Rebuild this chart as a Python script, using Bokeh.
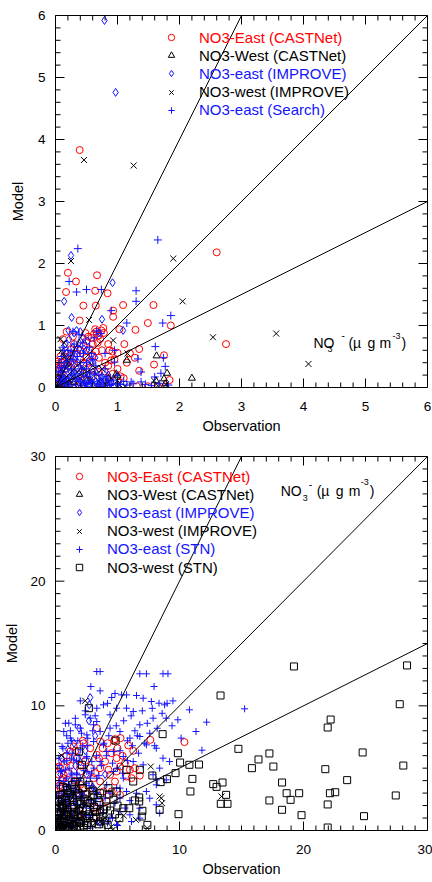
from bokeh.plotting import figure
from bokeh.models import Range1d, SingleIntervalTicker, Slope, Label, Legend, LegendItem
from bokeh.layouts import column
from bokeh.embed import file_html
from bokeh.resources import INLINE

# ---------------- DATA : top panel (0-6 ug/m3) ----------------
t_ec_obs = [0.39, 2.60, 2.75, 0.20, 0.33, 0.67, 0.17, 0.64, 0.84, 0.45, 0.65, 0.39, 0.93, 0.93, 1.09, 1.58,
            1.49, 1.29, 1.86, 0.77, 1.03, 1.11, 1.00, 1.35, 1.28, 1.59, 1.75, 1.35, 1.84, 1.31, 1.49, 1.65,
            1.77, 0.87, 0.90, 0.79, 0.92, 0.53, 0.58, 0.62, 0.66, 0.70, 0.72, 0.68, 0.60, 0.55, 0.50, 0.45,
            0.40, 0.35, 0.30, 0.25, 0.20, 0.15, 0.12, 0.10, 0.08, 0.06, 0.05, 0.04, 0.03, 0.10, 0.12, 0.15,
            0.20, 0.25, 0.30, 0.35, 0.40, 0.45, 0.50, 0.55, 0.60, 0.65, 0.70, 0.75, 0.80, 0.85, 0.95, 1.00,
            1.05, 0.70, 0.60, 0.50, 0.40, 0.30, 0.20, 0.10, 0.78, 0.74, 0.64, 0.48, 0.18, 0.28, 0.85, 0.92,
            1.15, 1.20, 1.10, 0.88, 0.58, 0.45, 0.02, 0.05, 0.08, 0.04]
t_ec_mod = [3.83, 2.18, 0.70, 1.85, 1.71, 1.81, 1.54, 1.56, 1.52, 1.32, 1.32, 1.08, 1.24, 1.14, 1.33, 1.33,
            1.04, 0.93, 1.00, 0.96, 0.94, 0.70, 0.56, 0.62, 0.48, 0.37, 0.52, 0.27, 0.12, 0.02, 0.02, 0.01,
            0.01, 0.60, 0.44, 0.26, 0.22, 0.82, 0.80, 0.86, 0.90, 0.84, 0.78, 0.72, 0.70, 0.62, 0.75, 0.68,
            0.60, 0.55, 0.70, 0.62, 0.55, 0.50, 0.78, 0.40, 0.35, 0.30, 0.25, 0.38, 0.20, 0.22, 0.15, 0.30,
            0.35, 0.42, 0.38, 0.32, 0.45, 0.40, 0.48, 0.42, 0.52, 0.58, 0.48, 0.60, 0.40, 0.35, 0.45, 0.30,
            0.18, 0.25, 0.18, 0.12, 0.08, 0.10, 0.05, 0.08, 0.88, 0.92, 0.94, 0.88, 0.90, 0.82, 0.70, 0.58,
            0.40, 0.55, 0.15, 0.10, 0.30, 0.22, 0.12, 0.05, 0.50, 0.42]

t_wc_obs = [1.15, 1.63, 2.20, 1.80, 1.75, 1.62, 1.00, 1.77, 0.98, 0.10, 0.30, 0.50, 0.70, 0.85, 0.20]
t_wc_mod = [0.44, 0.51, 0.15, 0.23, 0.14, 0.11, 0.19, 0.06, 0.22, 0.05, 0.08, 0.10, 0.05, 0.15, 0.12]

t_ei_obs = [0.79, 0.97, 0.25, 0.92, 0.14, 0.26, 0.75, 1.09, 0.21, 0.34, 0.40, 0.30, 0.64, 0.45, 0.38, 0.28,
            0.22, 0.18, 0.12, 0.32, 0.42, 0.50, 0.55, 0.48, 0.35, 0.25, 0.15, 0.10, 0.20, 0.30, 0.40, 0.60,
            0.70, 0.80, 0.90, 0.60, 0.45, 0.08, 0.05, 0.70, 0.58, 0.26, 0.16, 1.00, 0.75, 0.52, 0.05, 0.35,
            0.65, 0.85, 0.12, 0.18, 0.24, 0.30, 0.36, 0.42, 0.28, 0.22, 0.14, 0.38, 0.46, 0.52, 0.08, 0.55,
            0.72]
t_ei_mod = [5.92, 4.76, 2.13, 1.69, 1.39, 1.13, 1.10, 0.92, 0.92, 0.92, 0.90, 0.88, 0.48, 0.80, 0.72, 0.65,
            0.78, 0.55, 0.45, 0.50, 0.55, 0.60, 0.45, 0.35, 0.30, 0.25, 0.20, 0.12, 0.10, 0.15, 0.18, 0.25,
            0.30, 0.12, 0.08, 0.05, 0.05, 0.05, 0.30, 0.88, 0.40, 0.40, 0.70, 0.05, 0.18, 0.20, 0.10, 0.05,
            0.10, 0.20, 0.30, 0.38, 0.55, 0.45, 0.40, 0.28, 0.20, 0.08, 0.15, 0.62, 0.62, 0.75, 0.22, 0.12,
            0.08]

t_wi_obs = [0.46, 1.26, 0.25, 1.90, 2.05, 0.54, 2.54, 3.56, 4.08, 0.93, 0.08, 1.16, 1.00, 1.59, 1.65, 1.78,
            1.03, 0.10, 0.12, 0.15, 0.05, 0.10, 0.20, 0.30, 0.40, 0.50, 0.60, 0.70, 0.80, 0.90, 0.35, 0.08,
            0.14, 0.18, 0.22, 0.28, 0.45, 0.55, 0.65, 0.75, 0.85, 1.12, 0.06, 0.16]
t_wi_mod = [3.67, 3.58, 2.04, 2.08, 1.39, 1.09, 0.81, 0.87, 0.38, 0.76, 0.78, 0.55, 0.11, 0.11, 0.03, 0.05,
            0.05, 0.60, 0.55, 0.50, 0.20, 0.30, 0.10, 0.05, 0.15, 0.20, 0.35, 0.10, 0.05, 0.15, 0.25, 0.05,
            0.72, 0.45, 0.35, 0.18, 0.30, 0.12, 0.22, 0.30, 0.08, 0.02, 0.12, 0.02]

t_es_obs = [0.36, 1.65, 0.22, 0.34, 0.50, 0.74, 1.30, 1.30, 0.90, 1.15, 1.73, 1.86, 1.61, 1.74, 1.77, 1.70,
            1.38, 1.22, 1.38, 1.60, 0.95, 1.33, 0.66, 0.73, 0.10, 0.20, 0.30, 0.35, 0.40, 0.45, 0.50, 0.55,
            0.60, 0.65, 0.70, 0.75, 0.80, 0.85, 0.90, 0.30, 0.25, 0.15, 0.10, 0.05, 0.20, 0.40, 0.50, 0.60,
            0.70, 0.35, 0.45, 0.25, 0.15, 0.55, 0.62, 0.38, 0.28, 1.00, 1.10, 0.95, 0.05, 0.12, 0.18, 0.80,
            0.22, 0.32, 0.42, 0.52, 0.68, 0.78, 0.88, 0.98, 0.14, 0.08, 0.58, 0.48,
            0.05, 0.08, 0.12, 0.16, 0.22, 0.26, 0.33, 0.38, 0.42, 0.47, 0.52, 0.57, 0.63, 0.67, 0.72, 0.77,
            0.82, 0.87, 0.93, 1.05, 1.15, 1.25, 1.45, 1.55, 1.68, 1.82, 0.18, 0.24, 0.30, 0.36, 0.44, 0.14,
            0.10, 0.06, 0.50, 0.58]
t_es_mod = [2.24, 2.38, 1.71, 1.54, 1.58, 1.58, 1.56, 1.39, 1.24, 1.04, 1.04, 1.16, 0.66, 0.48, 0.34, 0.23,
            0.25, 0.09, 0.09, 0.17, 0.41, 0.46, 0.91, 0.87, 0.50, 0.60, 0.70, 0.50, 0.40, 0.55, 0.30, 0.25,
            0.45, 0.35, 0.20, 0.15, 0.30, 0.10, 0.05, 0.30, 0.20, 0.15, 0.10, 0.05, 0.30, 0.10, 0.05, 0.10,
            0.05, 0.15, 0.20, 0.45, 0.35, 0.65, 0.80, 0.85, 0.90, 0.20, 0.10, 0.60, 0.25, 0.65, 0.05, 0.55,
            0.02, 0.04, 0.03, 0.02, 0.04, 0.02, 0.03, 0.06, 0.08, 0.12, 0.08, 0.06,
            0.12, 0.18, 0.25, 0.08, 0.14, 0.28, 0.22, 0.12, 0.30, 0.08, 0.18, 0.12, 0.22, 0.06, 0.12, 0.08,
            0.18, 0.04, 0.12, 0.05, 0.04, 0.06, 0.05, 0.03, 0.06, 0.04, 0.42, 0.52, 0.58, 0.66, 0.72, 0.60,
            0.32, 0.40, 0.40, 0.55]

# ---------------- DATA : bottom panel (0-30 ug/m3) ----------------
b_ec_obs = [10.4, 7.65, 4.72, 4.80, 5.25, 5.87, 6.27, 3.33, 0.27, 0.27, 0.53, 0.40, 3.33, 4.00, 4.27, 4.93,
            5.73, 6.13, 4.40, 3.60, 2.27, 2.00, 1.73, 1.47, 1.20, 0.93, 0.67, 2.53, 2.80, 3.07, 3.60, 3.87,
            4.13, 3.33, 2.27, 1.47, 0.93, 0.40, 0.13, 0.08, 4.53, 5.20, 1.87, 2.67, 4.80, 3.07, 1.73, 3.60,
            2.80, 2.27, 2.00, 4.93, 5.20, 6.00,
            0.2, 0.4, 0.6, 0.8, 1.0, 1.2, 0.5, 0.3, 1.5, 1.7, 2.0, 2.4, 3.8, 4.2, 4.5, 5.0, 5.4, 5.6, 6.4,
            6.8, 3.2, 3.5, 2.6, 1.0, 0.6, 1.4, 0.9, 1.6, 2.2]
b_ec_mod = [7.09, 7.27, 7.19, 7.33, 7.41, 6.82, 6.39, 8.21, 5.13, 4.47, 4.06, 3.40, 6.07, 5.53, 4.87, 4.73,
            4.33, 4.20, 4.47, 3.93, 3.40, 4.73, 5.80, 6.74, 6.34, 5.53, 4.47, 4.47, 5.00, 4.20, 5.00, 3.13,
            2.33, 1.79, 1.26, 0.72, 0.19, 0.72, 1.79, 2.86, 3.13, 2.86, 2.86, 2.19, 3.93, 0.99, 1.52, 7.14,
            6.60, 7.00, 3.66, 5.80, 5.13, 4.87,
            5.5, 5.0, 4.2, 3.8, 4.6, 5.2, 3.0, 3.6, 4.0, 3.2, 5.2, 5.6, 6.6, 7.0, 6.2, 6.6, 6.0, 5.4, 5.0,
            4.4, 4.6, 5.8, 3.0, 2.0, 1.2, 2.6, 6.0, 6.4, 7.2]

b_wc_obs = [0.5, 1.0, 1.5, 2.0, 0.8, 1.8]
b_wc_mod = [0.3, 0.8, 0.5, 1.2, 1.5, 0.2]

b_ei_obs = [2.80, 2.72, 0.5, 1.0, 1.5, 2.0, 2.5, 1.2, 0.8, 0.3, 1.8, 2.2, 0.6, 1.4, 3.0, 3.5, 0.2, 1.0, 2.8,
            4.0, 0.4, 1.6, 2.4, 3.2, 0.9, 1.3, 2.7, 1.9]
b_ei_mod = [10.67, 10.08, 5.8, 6.5, 7.0, 5.5, 4.5, 4.0, 3.5, 2.5, 3.0, 2.0, 1.5, 1.0, 3.5, 2.8, 0.8, 0.3,
            1.2, 4.5, 4.5, 5.2, 6.4, 7.6, 2.4, 2.8, 8.8, 8.2]

b_wi_obs = [2.40, 0.48, 7.68, 8.53, 8.40, 8.59, 13.39, 6.48, 7.41, 4.61, 3.33, 3.60, 0.5, 1.0, 1.5, 2.0, 0.3,
            2.5, 3.0, 1.2, 0.8, 0.2, 4.0, 5.5, 4.5, 0.7, 1.3, 1.7, 2.3, 0.4, 2.9, 3.6, 5.0]
b_wi_mod = [10.40, 6.02, 5.13, 2.59, 2.73, 2.19, 2.73, 0.86, 0.19, 0.05, 3.13, 1.79, 0.5, 1.0, 0.3, 1.5, 1.8,
            0.8, 0.4, 2.2, 3.0, 0.2, 1.0, 1.2, 0.3, 1.4, 0.6, 1.9, 1.2, 2.6, 2.0, 0.7, 0.6]

b_es_obs = [3.33, 3.60, 6.80, 7.33, 8.67, 9.07, 2.85, 7.95, 4.80, 5.33, 5.73, 4.53, 6.53, 7.07, 7.73, 8.35,
            8.80, 9.47, 15.25, 12.19, 11.33, 11.81, 10.13, 9.87, 8.93, 7.87, 6.80, 6.27, 5.73, 4.93, 4.40,
            3.87, 3.33, 3.07, 3.60, 4.40, 5.20, 6.00, 6.80, 7.33, 8.13, 8.67, 9.20, 8.40, 7.87, 7.07, 6.27,
            5.47, 4.67, 3.87, 3.07, 2.53, 2.00, 1.60, 1.07, 0.67, 1.20, 0.53, 0.93, 1.47, 2.00, 2.53, 2.80,
            3.33, 2.40, 3.33, 4.13, 4.93, 5.73, 6.53, 7.33, 8.13, 8.93, 8.13, 7.60, 6.80, 6.00, 5.20, 4.40,
            3.60, 2.80, 2.00, 4.93, 6.13, 0.40, 0.27, 0.93, 1.20, 0.67, 0.40, 0.27, 1.73, 2.27, 2.80, 3.33,
            1.73, 2.13, 1.33, 1.07, 1.60, 1.33, 0.80, 2.53, 2.93, 3.60, 4.13, 3.07, 4.67, 5.47, 5.20, 8.13,
            8.40, 6.80, 10.80, 1.07, 0.13, 0.5, 1.0, 1.5, 2.0, 2.5, 0.8, 1.2, 1.8, 2.2, 0.3, 0.6, 1.0, 1.4,
            0.2, 1.6, 2.4, 1.1, 0.7, 1.9, 2.6, 1.3, 0.9, 2.1, 1.7, 0.4, 2.8, 3.1, 2.5, 1.9, 0.5,
            0.3, 0.5, 0.7, 0.9, 1.1, 1.3, 1.5, 1.7, 1.9, 2.1, 2.3, 2.5, 2.7, 2.9, 3.1, 3.3, 3.5, 3.7, 3.9,
            4.1, 4.3, 4.6, 4.9, 5.2, 5.5, 5.8, 6.1, 6.4, 6.7, 7.0, 7.4, 7.8, 8.2, 8.6, 9.0, 9.4, 0.6, 1.0,
            1.4, 1.8, 2.2, 2.6, 3.0, 1.2, 0.8, 1.6, 2.4, 3.2, 2.0, 3.6, 4.2, 0.4, 0.8, 1.2, 1.6, 2.0, 2.4,
            2.8, 3.2, 3.6, 4.0, 4.4, 4.8, 5.2, 5.6, 6.0, 0.2, 0.6, 1.0, 1.4, 0.3, 0.9, 1.3, 5.0, 5.4, 5.8,
            6.2, 6.6, 7.2, 7.6, 8.0, 3.0, 3.4, 3.8, 4.2, 4.6, 5.0, 2.2, 1.4, 0.8]
b_es_mod = [12.75, 12.75, 12.57, 12.57, 12.57, 12.57, 11.55, 11.55, 10.99, 10.88, 10.88, 10.67, 10.83,
            10.61, 10.35, 10.21, 10.08, 10.40, 9.76, 8.69, 7.94, 6.44, 7.41, 8.88, 9.01, 9.01, 8.48, 9.55,
            9.81, 9.81, 9.28, 10.08, 9.81, 8.48, 7.94, 8.21, 7.94, 7.41, 7.54, 6.87, 6.60, 5.80, 5.53, 5.00,
            4.47, 5.27, 5.53, 5.94, 6.34, 6.87, 7.14, 7.67, 8.21, 8.48, 8.61, 7.94, 7.41, 6.74, 6.20, 5.67,
            6.47, 5.94, 9.01, 8.74, 9.28, 4.20, 3.66, 3.40, 3.13, 2.99, 3.13, 3.66, 4.06, 4.06, 2.59, 1.79,
            1.26, 1.52, 0.99, 0.45, 0.19, 0.32, 0.45, 0.72, 0.99, 2.06, 2.33, 3.13, 3.93, 4.73, 5.80, 4.47,
            2.86, 1.79, 2.59, 2.06, 1.26, 0.99, 1.79, 2.59, 4.47, 4.87, 4.73, 5.53, 5.53, 6.34, 3.40, 4.73,
            4.20, 3.40, 2.06, 1.39, 0.99, 9.68, 0.45, 0.19, 3.0, 3.5, 4.0, 4.2, 3.8, 2.5, 2.0, 1.5, 2.6,
            1.2, 0.6, 1.0, 1.4, 3.6, 3.2, 5.2, 5.0, 5.5, 6.0, 6.8, 7.2, 7.6, 7.8, 4.6, 2.2, 4.2, 2.2, 1.2,
            0.8, 0.2,
            4.0, 4.8, 3.2, 4.2, 3.6, 4.6, 3.4, 5.6, 4.0, 3.0, 4.8, 5.8, 3.6, 4.6, 5.0, 6.0, 4.4, 5.2, 7.0,
            6.0, 7.6, 5.4, 8.4, 6.4, 8.8, 7.2, 9.2, 8.0, 6.2, 9.6, 8.6, 9.8, 8.2, 9.4, 10.2, 8.4, 6.6, 7.0,
            6.2, 7.2, 6.8, 7.4, 8.0, 8.0, 8.6, 9.0, 9.6, 9.2, 10.4, 11.2, 10.2, 1.6, 1.2, 1.6, 2.2, 2.6, 2.0,
            2.4, 3.0, 2.0, 2.6, 3.0, 2.2, 2.6, 1.8, 2.4, 2.8, 2.4, 2.8, 3.0, 5.2, 5.6, 5.8, 5.0, 4.6, 5.6,
            6.8, 7.6, 7.0, 7.8, 6.8, 1.2, 0.8, 1.4, 0.6, 1.0, 0.4, 0.6, 0.3, 0.6]

b_ws_obs = [19.23, 28.35, 13.31, 27.76, 22.19, 21.95, 8.64, 14.75, 24.77, 17.25, 9.87, 16.37, 15.84, 17.57,
            21.76, 28.05, 10.05, 10.80, 11.57, 9.68, 11.04, 7.81, 8.48, 8.99, 23.52, 18.27, 12.72, 12.99,
            13.47, 10.88, 13.76, 13.33, 13.87, 18.64, 19.65, 22.13, 22.56, 27.44, 17.25, 18.96, 21.95, 18.27,
            9.92, 19.84, 24.88, 21.95, 7.41, 8.40, 6.40, 6.75, 6.75, 6.27, 6.80, 5.73, 4.85, 1.89, 2.69, 4.27,
            5.47, 5.95, 7.01, 6.96, 5.15, 4.21, 3.60, 3.07, 2.67, 2.00, 2.13, 1.87, 1.33, 0.93, 0.53, 0.93,
            1.47, 2.00, 2.53, 3.07, 3.60, 4.13, 4.67, 4.93, 3.60, 2.27, 0.3, 0.5, 0.8, 1.0, 1.2, 1.5, 0.2,
            0.6, 1.8, 2.2, 2.5, 0.4, 1.1, 1.6, 0.9, 1.4, 0.7, 2.8, 3.2, 0.1, 1.3, 2.0, 0.5, 1.7, 2.4, 3.4,
            3.0, 2.2, 1.0, 0.6, 1.6, 0.3, 2.6, 3.8, 4.4, 1.9, 0.15, 1.15, 0.45, 0.85, 1.45, 2.05, 0.35, 4.0,
            3.5, 4.8, 5.0,
            0.1, 0.2, 0.4, 0.6, 0.7, 0.9, 1.1, 1.3, 1.5, 1.7, 1.9, 2.1, 2.3, 2.5, 2.7, 2.9, 3.1, 3.3, 3.5,
            0.3, 0.5, 0.8, 1.2, 1.6, 2.0, 2.4, 0.15, 0.35, 1.0, 2.6, 3.9, 4.3, 0.9, 0.2, 0.55, 1.75]
b_ws_mod = [13.16, 13.24, 10.83, 10.13, 8.90, 8.26, 7.73, 6.55, 6.26, 6.18, 6.20, 5.70, 5.00, 5.13, 4.92,
            5.21, 5.45, 5.27, 5.29, 4.60, 4.14, 4.41, 3.88, 4.12, 4.04, 3.85, 3.72, 3.50, 3.85, 3.13, 2.86,
            2.14, 2.14, 2.99, 2.99, 2.99, 3.07, 2.81, 2.41, 2.46, 2.09, 1.66, 1.31, 1.23, 1.15, 0.24, 0.45,
            1.66, 2.41, 2.33, 2.65, 3.93, 4.87, 4.87, 7.22, 6.34, 9.81, 3.40, 1.79, 1.79, 1.58, 1.12, 0.99,
            0.45, 2.99, 2.86, 3.66, 3.93, 5.27, 2.99, 3.66, 3.26, 2.33, 1.79, 1.26, 0.72, 0.45, 0.99, 1.52,
            1.93, 2.46, 3.13, 0.72, 0.19, 0.5, 1.0, 0.3, 1.5, 0.8, 0.4, 1.2, 1.8, 1.2, 1.8, 1.0, 0.2, 0.1,
            0.9, 2.2, 2.6, 0.7, 2.2, 1.5, 0.8, 1.9, 0.3, 2.5, 2.8, 2.5, 2.6, 3.2, 3.4, 3.0, 3.5, 3.9, 2.0,
            0.6, 1.1, 1.6, 0.6, 0.15, 0.55, 1.45, 1.15, 1.35, 2.15, 2.85, 0.8, 0.5, 1.3, 2.0,
            0.3, 0.6, 0.9, 0.4, 1.3, 0.2, 0.9, 0.5, 1.5, 0.7, 1.6, 1.1, 0.4, 1.7, 1.3, 0.6, 1.9, 1.1, 2.3,
            1.5, 1.9, 2.6, 2.9, 3.3, 2.1, 2.9, 1.0, 0.1, 0.05, 2.4, 1.7, 2.9, 3.4, 2.4, 2.1, 2.3]

top_slopes = [2.0, 1.0, 0.5]
bottom_slopes = [2.0, 1.0, 0.5]

FONT = "Liberation Sans"
RED = "#ff0000"
BLUE = "#1414ff"
BLACK = "#000000"
MAJOR_PX = 9
MINOR_PX = 5


def style_axis(ax, interval, minor, standoff, label_standoff):
    ax.ticker = SingleIntervalTicker(interval=interval, num_minor_ticks=minor)
    ax.major_tick_in = 0
    ax.major_tick_out = 0
    ax.minor_tick_in = 0
    ax.minor_tick_out = 0
    ax.axis_line_color = BLACK
    ax.major_label_text_font = FONT
    ax.major_label_text_font_size = "13.5px"
    ax.major_label_text_color = BLACK
    ax.major_label_standoff = standoff
    ax.axis_label_text_font = FONT
    ax.axis_label_text_font_size = "14.5px"
    ax.axis_label_text_font_style = "normal"
    ax.axis_label_text_color = BLACK
    ax.axis_label_standoff = label_standoff


def add_frame_ticks(p, vmax, interval, minor, fw, fh):
    """Inward ticks on all four sides of the frame (lengths given in screen px)."""
    vmax = float(vmax)
    step = float(interval) / minor
    n = int(round(vmax / step))
    x0, y0, x1, y1 = [], [], [], []
    for k in range(n + 1):
        v = round(k * step, 6)
        px = MAJOR_PX if k % minor == 0 else MINOR_PX
        ly = px * vmax / fh     # vertical tick length in data units
        lx = px * vmax / fw     # horizontal tick length in data units
        x0 += [v, v, 0.0, vmax]
        y0 += [0.0, vmax, v, v]
        x1 += [v, v, lx, vmax - lx]
        y1 += [ly, vmax - ly, v, v]
    p.segment(x0=x0, y0=y0, x1=x1, y1=y1, line_color=BLACK, line_width=1)


def panel(vmax, interval, minor, series, slopes, size, borders, ylabel_standoff, legend_xy,
          no3_anchor, no3_parts):
    w, h = size
    bl, br, bt, bb = borders
    p = figure(width=w, height=h, x_range=Range1d(0, vmax), y_range=Range1d(0, vmax),
               output_backend="svg", toolbar_location=None,
               min_border_left=bl, min_border_right=br, min_border_top=bt, min_border_bottom=bb)
    p.xgrid.visible = False
    p.ygrid.visible = False
    p.outline_line_color = BLACK
    p.outline_line_width = 1
    p.background_fill_color = "white"
    p.border_fill_color = "white"
    p.xaxis.axis_label = "Observation"
    p.yaxis.axis_label = "Model"
    style_axis(p.xaxis[0], interval, minor, 14, 4)
    style_axis(p.yaxis[0], interval, minor, 10, ylabel_standoff)

    for g in slopes:
        p.add_layout(Slope(gradient=g, y_intercept=0, line_color=BLACK, line_width=1))

    lx, ly0, pitch = legend_xy
    for i, (label, marker, color, msize, xs, ys) in enumerate(series):
        r = p.scatter(x=xs, y=ys, marker=marker, size=msize, fill_color=None,
                      line_color=color, line_width=1)
        leg = Legend(items=[LegendItem(label=label, renderers=[r])],
                     location=(lx, ly0 - i * pitch), padding=0, margin=0, spacing=0,
                     glyph_width=16, glyph_height=18, label_height=18, label_standoff=20,
                     label_text_font=FONT, label_text_font_size="15px",
                     label_text_color=color, background_fill_alpha=0,
                     border_line_alpha=0)
        p.add_layout(leg)

    add_frame_ticks(p, vmax, interval, minor, w - bl - br, h - bt - bb)

    ax_, ay_ = no3_anchor
    for text, dx, dy, fs in no3_parts:
        p.add_layout(Label(x=ax_, y=ay_, x_offset=dx, y_offset=-dy, text=text,
                           text_font=FONT, text_font_size=fs, text_color=BLACK,
                           text_baseline="alphabetic"))
    return p


top_series = [
    ("NO3-East (CASTNet)", "circle", RED, 7, t_ec_obs, t_ec_mod),
    ("NO3-West (CASTNet)", "triangle", BLACK, 7, t_wc_obs, t_wc_mod),
    ("NO3-east (IMPROVE)", "diamond", BLUE, 8, t_ei_obs, t_ei_mod),
    ("NO3-west (IMPROVE)", "x", BLACK, 8.5, t_wi_obs, t_wi_mod),
    ("NO3-east (Search)", "cross", BLUE, 8, t_es_obs, t_es_mod),
]
bottom_series = [
    ("NO3-East (CASTNet)", "circle", RED, 7, b_ec_obs, b_ec_mod),
    ("NO3-West (CASTNet)", "triangle", BLACK, 7, b_wc_obs, b_wc_mod),
    ("NO3-east (IMPROVE)", "diamond", BLUE, 8, b_ei_obs, b_ei_mod),
    ("NO3-west (IMPROVE)", "x", BLACK, 8.5, b_wi_obs, b_wi_mod),
    ("NO3-east (STN)", "cross", BLUE, 7, b_es_obs, b_es_mod),
    ("NO3-west (STN)", "square", BLACK, 7, b_ws_obs, b_ws_mod),
]

top_parts = [("NO", 0, 0, "14px"), ("3", 14, 6, "9px"), ("-", 28, -8, "10px"),
             ("(\u00b5", 35, 0, "14px"), ("g", 54, 0, "14px"), ("m", 66, 0, "14px"),
             ("-3", 79, -7, "9px"), (")", 88, 0, "14px")]
bottom_parts = [("NO", 0, 0, "14px"), ("3", 22, 7, "9px"), ("-", 28, -7, "10px"),
                ("(\u00b5", 36, 0, "14px"), ("g", 55, 0, "14px"), ("m", 68, 0, "14px"),
                ("-3", 80, -9, "9px"), (")", 89, 0, "14px")]

p1 = panel(6, 1, 5, top_series, top_slopes, (432, 441), (55, 5, 15, 54), 9,
           (108, 341, 18.2), (4.16, 0.71), top_parts)
p2 = panel(30, 10, 10, bottom_series, bottom_slopes, (432, 440), (55, 2, 15, 51), 7,
           (16, 345, 18.2), (18.16, 27.27), bottom_parts)

layout = column(p1, p2, spacing=0)
open("out.html", "w").write(file_html(layout, INLINE))
